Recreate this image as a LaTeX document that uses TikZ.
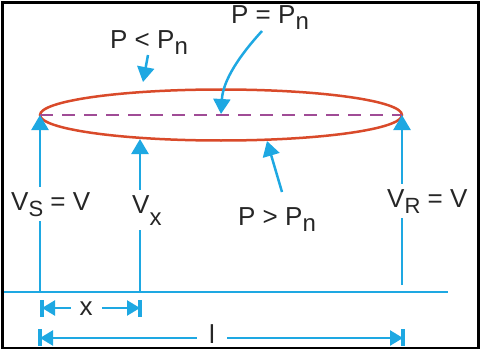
\documentclass[tikz,border=0pt]{standalone}
\usepackage{fontspec}
\setmainfont{Liberation Sans}
\usetikzlibrary{arrows.meta,shapes.geometric}
\definecolor{cy}{HTML}{1EA8E2}
\definecolor{ered}{HTML}{D94A2A}
\definecolor{dpurp}{HTML}{A04C96}
\newcommand\lsub[3]{\raisebox{-#1}{\fontsize{#2}{#2}\selectfont #3}}
\begin{document}
\begin{tikzpicture}[x=1pt,y=-1pt,
  lbl/.style={font=\fontsize{26}{30}\selectfont, inner sep=0pt, anchor=base west, text=black!85},
  cyl/.style={draw=cy, line width=2.5pt},
  tip/.style={-{Triangle[length=15pt,width=17pt]}},
  dtip/.style={{Triangle[length=13pt,width=15pt]}-{Triangle[length=13pt,width=15pt]}},
  bar/.style={draw=cy, line width=3.5pt}
]
\useasboundingbox (0,0) rectangle (481,350);
% ellipse and dashed axis
\node[draw=ered, line width=2.5pt, ellipse, minimum width=362pt, minimum height=51pt, inner sep=0pt, outer sep=0pt] (E) at (221,115) {};
\draw[dpurp, line width=2.5pt, dash pattern=on 13pt off 9pt] (E.west) -- (E.east);
% base line
\coordinate (h0) at (3,292);
\coordinate (h1) at (448,292);
\draw[cyl] (h0) -- (h1);
% vertical voltage arrows
\coordinate (s0) at (40,292);
\coordinate (x0) at (140,292);
\coordinate (xt) at (140,139);
\coordinate (r0) at (402,285);
\draw[cyl,tip] (s0) -- (E.west);
\draw[cyl,tip] (x0) -- (xt);
\draw[cyl,tip] (r0) -- (E.east);
% voltage labels
\node[lbl, fill=white, inner ysep=5pt] (vs) at (11,210) {V\lsub{6pt}{22}{S} = V};
\node[lbl, fill=white, inner ysep=5pt] (vx) at (132,213) {V\lsub{12pt}{24}{x}};
\node[lbl, fill=white, inner ysep=5pt] (vr) at (387,207) {V\lsub{6pt}{22}{R} = V};
% power labels
\node[lbl] (pe) at (231,24) {P = P\lsub{6pt}{24}{n}};
\node[lbl] (pl) at (110,49) {P < P\lsub{6pt}{24}{n}};
\node[lbl] (pg) at (238,225) {P > P\lsub{6pt}{24}{n}};
% pointer arrows
\coordinate (pla) at (148,55);
\coordinate (plt) at (143,82);
\draw[cyl,tip] (pla) -- (plt);
\coordinate (pea) at (262,31);
\coordinate (pet) at (221,114);
\draw[cyl,tip] (pea) .. controls (240,55) and (223,80) .. (pet);
\coordinate (pga) at (282,192);
\coordinate (pgt) at (267,141);
\draw[cyl,tip] (pga) -- (pgt);
% dimension x
\draw[bar] (42,300) -- (42,317);
\draw[bar] (140,300) -- (140,317);
\coordinate (xa) at (42,308);
\coordinate (xb) at (140,308);
\draw[cyl,dtip] (xa) -- (xb);
\node[lbl, anchor=base, fill=white, inner xsep=9pt, inner ysep=2pt] (xl) at (86,315) {x};
% dimension l
\draw[bar] (40,329) -- (40,346);
\draw[bar] (403,329) -- (403,346);
\coordinate (la) at (40,338);
\coordinate (lb) at (403,338);
\draw[cyl,dtip] (la) -- (lb);
\node[lbl, anchor=base, fill=white, inner xsep=12pt, inner ysep=2pt] (ll) at (212,343) {l};
% frame
\draw[line width=2.5pt] (2.5,2.5) rectangle (478.5,348);
\end{tikzpicture}
\end{document}
